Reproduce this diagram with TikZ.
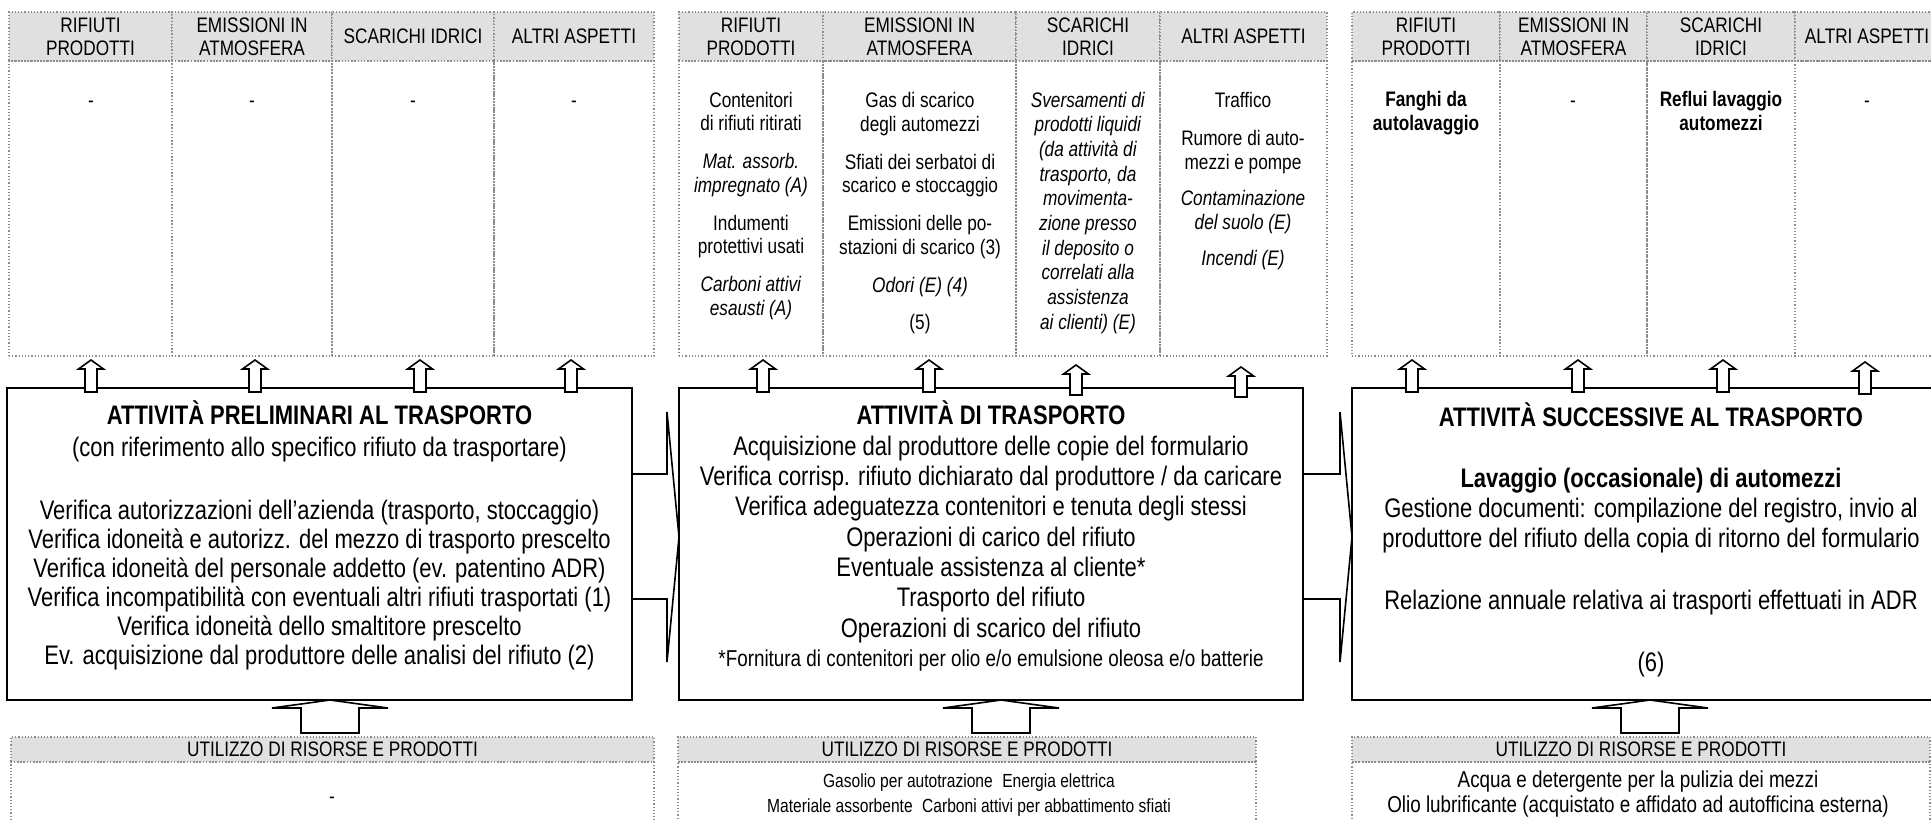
\documentclass[tikz,border=0pt]{standalone}
\usepackage{fontspec}
\setmainfont{Liberation Sans}[FakeStretch=0.82]
\usetikzlibrary{calc}
\tikzset{
  hdrcell/.style={draw=black!45, densely dotted, fill=black!12, line width=0.6pt},
  bodycell/.style={draw=black!45, densely dotted, line width=0.6pt},
  mainbox/.style={draw=black, line width=1.1pt},
  blockarrow/.style={draw=black, line width=0.8pt, fill=white, line join=miter},
  chevline/.style={draw=black, line width=0.8pt, line join=miter},
  hdrtext/.style={font=\fontsize{10.5}{11.5}\selectfont, align=center, inner sep=0pt},
  coltext/.style={font=\fontsize{10.5}{11.75}\selectfont, align=center, inner sep=0pt, anchor=base},
  boxtext/.style={font=\fontsize{13.4}{14.5}\selectfont, align=center, inner sep=0pt, anchor=base},
  bottext/.style={font=\fontsize{10.5}{12.5}\selectfont, align=center, inner sep=0pt, anchor=base},
}
\newcommand\mycell[6]{\node[#6, anchor=north west, inner sep=0pt, outer sep=0pt,
  minimum width={(#4-#2)*0.5pt}, minimum height={(#5-#3)*0.5pt}] (#1) at (#2,#3) {};}
\newcommand\uparr[4]{\coordinate (#1) at (#2,#3);
  \draw[blockarrow] (#1) -- (#2+12.5,#3+9) -- (#2+6,#3+9) -- (#2+6,#4) -- (#2-6,#4) -- (#2-6,#3+9) -- (#2-12.5,#3+9) -- cycle;}
\newcommand\botarr[2]{\coordinate (#1) at (#2,700);
  \draw[blockarrow] (#1) -- (#2+58,708) -- (#2+29,708) -- (#2+29,733) -- (#2-29,733) -- (#2-29,708) -- (#2-58,708) -- cycle;}
\newcommand\chev[4]{\coordinate (#1) at (#4,537);
  \draw[chevline] (#2,474) -- (#3,474) -- (#3,412) -- (#1) -- (#3,662) -- (#3,599) -- (#2,599);}
\begin{document}
\begin{tikzpicture}[x=0.5pt,y=-0.5pt]
\useasboundingbox (0,0) rectangle (1931,819);
\clip (0,0) rectangle (1931,819);
% ---------- panel 1 top cells
\mycell{h11}{9}{12}{172}{61}{hdrcell}
\mycell{h12}{172}{12}{332}{61}{hdrcell}
\mycell{h13}{332}{12}{494}{61}{hdrcell}
\mycell{h14}{494}{12}{654}{61}{hdrcell}
\mycell{b11}{9}{61}{172}{356}{bodycell}
\mycell{b12}{172}{61}{332}{356}{bodycell}
\mycell{b13}{332}{61}{494}{356}{bodycell}
\mycell{b14}{494}{61}{654}{356}{bodycell}
% ---------- panel 2 top cells
\mycell{h21}{679}{12}{823}{61}{hdrcell}
\mycell{h22}{823}{12}{1016}{61}{hdrcell}
\mycell{h23}{1016}{12}{1160}{61}{hdrcell}
\mycell{h24}{1160}{12}{1327}{61}{hdrcell}
\mycell{b21}{679}{61}{823}{356}{bodycell}
\mycell{b22}{823}{61}{1016}{356}{bodycell}
\mycell{b23}{1016}{61}{1160}{356}{bodycell}
\mycell{b24}{1160}{61}{1327}{356}{bodycell}
% ---------- panel 3 top cells
\mycell{h31}{1352}{12}{1500}{61}{hdrcell}
\mycell{h32}{1500}{12}{1647}{61}{hdrcell}
\mycell{h33}{1647}{12}{1795}{61}{hdrcell}
\mycell{h34}{1795}{12}{1945}{61}{hdrcell}
\mycell{b31}{1352}{61}{1500}{356}{bodycell}
\mycell{b32}{1500}{61}{1647}{356}{bodycell}
\mycell{b33}{1647}{61}{1795}{356}{bodycell}
\mycell{b34}{1795}{61}{1945}{356}{bodycell}
% header texts
\node[hdrtext] (th11) at (h11.center) {RIFIUTI\\PRODOTTI};
\node[hdrtext] (th12) at (h12.center) {EMISSIONI IN\\ATMOSFERA};
\node[hdrtext] (th13) at (h13.center) {SCARICHI IDRICI};
\node[hdrtext] (th14) at (h14.center) {ALTRI ASPETTI};
\node[hdrtext] (th21) at (h21.center) {RIFIUTI\\PRODOTTI};
\node[hdrtext] (th22) at (h22.center) {EMISSIONI IN\\ATMOSFERA};
\node[hdrtext] (th23) at (h23.center) {SCARICHI\\IDRICI};
\node[hdrtext] (th24) at (h24.center) {ALTRI ASPETTI};
\node[hdrtext] (th31) at (h31.center) {RIFIUTI\\PRODOTTI};
\node[hdrtext] (th32) at (h32.center) {EMISSIONI IN\\ATMOSFERA};
\node[hdrtext] (th33) at (h33.center) {SCARICHI\\IDRICI};
\node[hdrtext] (th34) at (1867,36.5) {ALTRI ASPETTI};
% panel 1 body texts (anchor = baseline of last line)
\node[coltext] (t11) at (91,107) {-};
\node[coltext] (t12) at (252,107) {-};
\node[coltext] (t13) at (413,107) {-};
\node[coltext] (t14) at (574,107) {-};
% panel 2 body texts
\node[coltext] (t21) at (751,315) {Contenitori\\di rifiuti ritirati\\[7.25pt]\textit{Mat. assorb.}\\\textit{impregnato (A)}\\[7.25pt]Indumenti\\protettivi usati\\[7.25pt]\textit{Carboni attivi}\\\textit{esausti (A)}};
\node[coltext] (t22) at (920,329) {Gas di scarico\\degli automezzi\\[7.25pt]Sfiati dei serbatoi di\\scarico e stoccaggio\\[7.25pt]Emissioni delle po-\\stazioni di scarico (3)\\[7.25pt]\textit{Odori (E) (4)}\\[6.75pt](5)};
\node[coltext, font=\fontsize{10.5}{12.33}\selectfont] (t23) at (1088,329) {\textit{Sversamenti di}\\\textit{prodotti liquidi}\\\textit{(da attività di}\\\textit{trasporto, da}\\\textit{movimenta-}\\\textit{zione presso}\\\textit{il deposito o}\\\textit{correlati alla}\\\textit{assistenza}\\\textit{ai clienti) (E)}};
\node[coltext, font=\fontsize{10.5}{12}\selectfont] (t24) at (1243,265) {Traffico\\[7pt]Rumore di auto-\\mezzi e pompe\\[6pt]\textit{Contaminazione}\\\textit{del suolo (E)}\\[6pt]\textit{Incendi (E)}};
% panel 3 body texts
\node[coltext] (t31) at (1426,130) {\textbf{Fanghi da}\\\textbf{autolavaggio}};
\node[coltext] (t32) at (1573,107) {-};
\node[coltext] (t33) at (1721,130) {\textbf{Reflui lavaggio}\\\textbf{automezzi}};
\node[coltext] (t34) at (1867,107) {-};
% ---------- main boxes
\mycell{box1}{7}{388}{632}{700}{mainbox}
\mycell{box2}{679}{388}{1303}{700}{mainbox}
\mycell{box3}{1352}{388}{1950}{700}{mainbox}
\node[boxtext] (tx1) at (319.5,664) {\textbf{ATTIVITÀ PRELIMINARI AL TRASPORTO}\\[1.5pt](con riferimento allo specifico rifiuto da trasportare)\\[17pt]Verifica autorizzazioni dell’azienda (trasporto, stoccaggio)\\Verifica idoneità e autorizz. del mezzo di trasporto prescelto\\Verifica idoneità del personale addetto (ev. patentino ADR)\\Verifica incompatibilità con eventuali altri rifiuti trasportati (1)\\Verifica idoneità dello smaltitore prescelto\\Ev. acquisizione dal produttore delle analisi del rifiuto (2)};
\node[boxtext, font=\fontsize{13.4}{15.15}\selectfont] (tx2) at (991,637) {\textbf{ATTIVITÀ DI TRASPORTO}\\Acquisizione dal produttore delle copie del formulario\\Verifica corrisp. rifiuto dichiarato dal produttore / da caricare\\Verifica adeguatezza contenitori e tenuta degli stessi\\Operazioni di carico del rifiuto\\Eventuale assistenza al cliente*\\Trasporto del rifiuto\\Operazioni di scarico del rifiuto};
\node[boxtext, font=\fontsize{11.5}{13}\selectfont] (tx2f) at (991,666) {*Fornitura di contenitori per olio e/o emulsione oleosa e/o batterie};
\node[boxtext, font=\fontsize{13.4}{15}\selectfont] (tx3) at (1651,671) {\textbf{ATTIVITÀ SUCCESSIVE AL TRASPORTO}\\[15.5pt]\textbf{Lavaggio (occasionale) di automezzi}\\Gestione documenti: compilazione del registro, invio al\\produttore del rifiuto della copia di ritorno del formulario\\[16pt]Relazione annuale relativa ai trasporti effettuati in ADR\\[16pt](6)};
% ---------- up arrows
\uparr{a11}{91}{360}{392}
\uparr{a12}{255}{360}{392}
\uparr{a13}{420}{360}{392}
\uparr{a14}{571}{360}{392}
\uparr{a21}{763}{360}{392}
\uparr{a22}{929}{360}{392}
\uparr{a23}{1076}{365}{395}
\uparr{a24}{1241}{367}{397}
\uparr{a31}{1412}{360}{392}
\uparr{a32}{1578}{360}{392}
\uparr{a33}{1723}{360}{392}
\uparr{a34}{1865}{362}{394}
% ---------- chevrons between main boxes
\chev{c12}{632}{667}{679}
\chev{c23}{1303}{1340}{1352}
% ---------- bottom resource boxes
\mycell{r1h}{11}{737}{654}{762}{hdrcell}
\mycell{r1b}{11}{762}{654}{840}{bodycell}
\mycell{r2h}{678}{737}{1256}{762}{hdrcell}
\mycell{r2b}{678}{762}{1256}{840}{bodycell}
\mycell{r3h}{1352}{737}{1930}{762}{hdrcell}
\mycell{r3b}{1352}{762}{1930}{840}{bodycell}
\node[hdrtext] (rt1) at (r1h.center) {UTILIZZO DI RISORSE E PRODOTTI};
\node[hdrtext] (rt2) at (r2h.center) {UTILIZZO DI RISORSE E PRODOTTI};
\node[hdrtext] (rt3) at (r3h.center) {UTILIZZO DI RISORSE E PRODOTTI};
\node[bottext] (rb1) at (332,803) {-};
\node[bottext, font=\fontsize{9.5}{12.5}\selectfont] (rb2) at (969,812) {Gasolio per autotrazione\enspace Energia elettrica\\Materiale assorbente\enspace Carboni attivi per abbattimento sfiati};
\node[bottext, font=\fontsize{11.5}{12.5}\selectfont] (rb3) at (1638,812) {Acqua e detergente per la pulizia dei mezzi\\Olio lubrificante (acquistato e affidato ad autofficina esterna)};
% ---------- bottom arrows
\botarr{d1}{330}
\botarr{d2}{1001}
\botarr{d3}{1650}
\end{tikzpicture}
\end{document}
